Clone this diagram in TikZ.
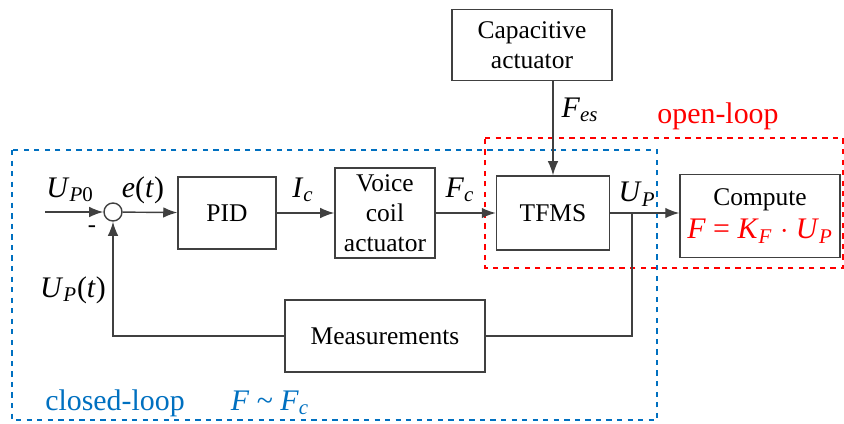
\documentclass[tikz,border=0pt]{standalone}
\usepackage{fontspec}
\setmainfont{Liberation Serif}
\usetikzlibrary{arrows.meta}
\definecolor{loopblue}{RGB}{0,112,192}
\newcommand{\sym}[2]{\textit{#1}\textsubscript{#2}}
\tikzset{
	block/.style={draw=black!75, thick, minimum width=#1, align=center, font=\rmfamily\fontsize{14.5}{17}\selectfont},
	sig/.style={draw=black!75, thick, -{Latex[length=8pt,width=6pt]}},
	wire/.style={draw=black!75, thick},
	lbl/.style={font=\rmfamily\fontsize{17}{20}\selectfont},
}
\begin{document}
\begin{tikzpicture}[x=0.02cm,y=-0.02cm]
			\useasboundingbox (0,0) rectangle (844,423);
			% loops
			\draw[loopblue, thick, dashed] (12,150) rectangle (657,420);
			\draw[red, thick, dashed] (485,138) -- (843,138) -- (843,268) -- (485,268) -- cycle;
			% blocks
			\node[block=160*0.02cm, minimum height=71*0.02cm] (cap) at (532,45) {Capacitive\\actuator};
			\node[block=98*0.02cm, minimum height=72*0.02cm] (pid) at (227,213) {PID};
			\node[block=100*0.02cm, minimum height=90*0.02cm] (vca) at (385,213) {Voice\\coil\\actuator};
			\node[block=113*0.02cm, minimum height=74*0.02cm] (tfms) at (553,213) {TFMS};
			\node[block=160*0.02cm, minimum height=83*0.02cm] (comp) at (760,216) {Compute\\[2pt]{\fontsize{17}{20}\selectfont\color{red}\textit{F} = \sym{K}{\textit{F}} $\cdot$ \sym{U}{\textit{P}}}};
			\node[block=200*0.02cm, minimum height=72*0.02cm] (meas) at (385,336) {Measurements};
			\node[draw=black!75, thick, circle, minimum size=18*0.02cm, inner sep=0pt] (sum) at (113,212) {};
			\coordinate (in) at (45,212);
			\coordinate (junc) at (632,213);
			% signals
			\draw[sig] (in) -- (sum);
			\draw[sig] (sum) -- (pid);
			\draw[sig] (pid) -- (vca);
			\draw[sig] (vca.east |- tfms.west) -- (tfms);
			\draw[sig] (tfms) -- (comp.west |- tfms.east);
			\draw[sig] (cap.south -| tfms.north) -- (tfms);
			\draw[wire] (junc) |- (meas.east);
			\draw[sig] (meas.west) -| (sum.south);
			% labels
			\node[lbl] (up0) at (70,190) {\sym{U}{\textit{P}0}};
			\node[font=\rmfamily\fontsize{14}{16}\selectfont] (minus) at (92,229) {-};
			\node[lbl] (et) at (143,190) {\textit{e}(\textit{t})};
			\node[lbl] (ic) at (303,190) {\sym{I}{\textit{c}}};
			\node[lbl] (fc) at (460,190) {\sym{F}{\textit{c}}};
			\node[lbl] (fes) at (580,110) {\sym{F}{\textit{es}}};
			\node[lbl] (up) at (637,194) {\sym{U}{\textit{P}}};
			\node[lbl] (upt) at (73,290) {\sym{U}{\textit{P}}(\textit{t})};
			\node[lbl, red] (open) at (718,116) {open-loop};
			\node[lbl, loopblue] (closed) at (115,403) {closed-loop};
			\node[lbl, loopblue] (approx) at (270,403) {\textit{F} \textasciitilde{} \sym{F}{\textit{c}}};
		\end{tikzpicture}
\end{document}
